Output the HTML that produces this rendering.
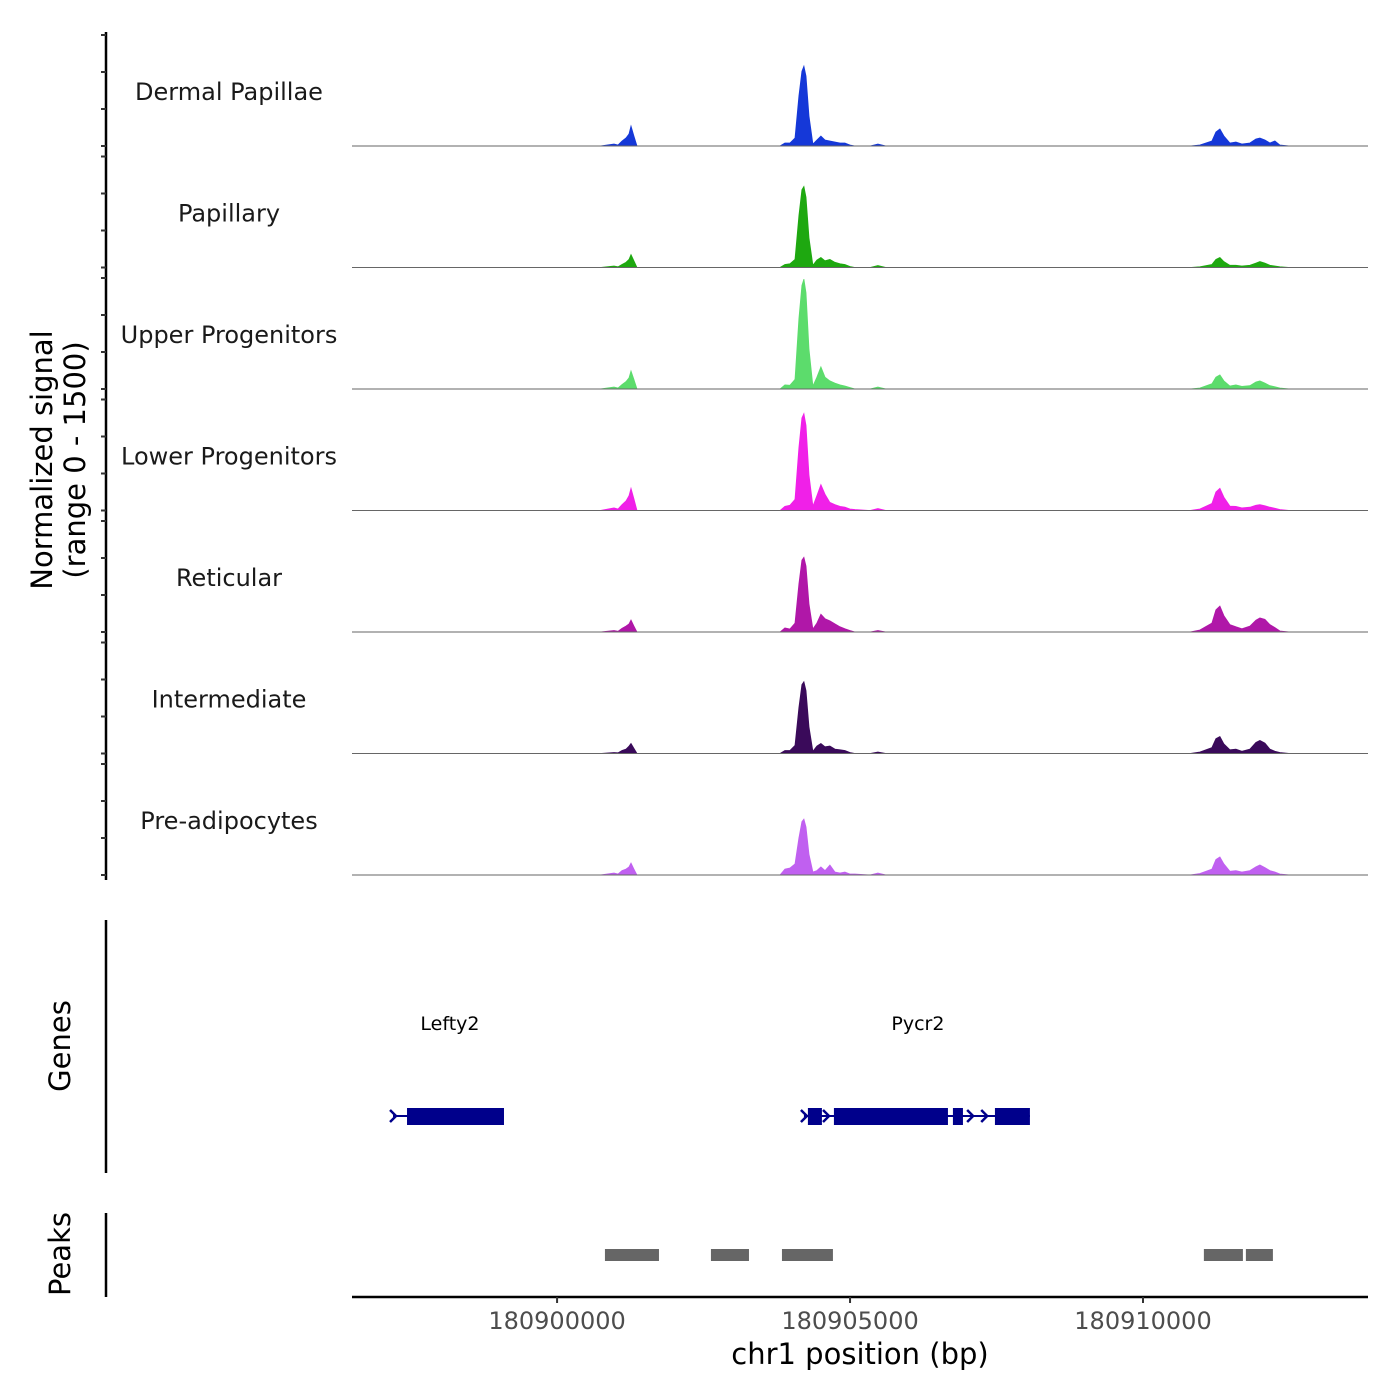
<!DOCTYPE html>
<html><head><meta charset="utf-8"><style>body{margin:0;background:#fff}svg{display:block;font-family:"DejaVu Sans","Liberation Sans",sans-serif}</style></head>
<body>
<svg id="c" width="1400" height="1400" viewBox="0 0 1400 1400"></svg>
<script>
const trackNames=["Dermal Papillae","Papillary","Upper Progenitors","Lower Progenitors","Reticular","Intermediate","Pre-adipocytes"];
const trackColors=["#1538d8","#1ea810","#5cdc6c","#f020e8","#b017a8","#3a0a5a","#c060f0"];
const positions=[180896500,180900732,180900971,180901039,180901108,180901176,180901227,180901261,180901312,180901364,180901449,180901688,180903121,180903804,180903889,180903974,180904060,180904128,180904179,180904213,180904248,180904299,180904367,180904435,180904503,180904572,180904657,180904742,180904828,180904913,180904998,180905084,180905340,180905476,180905613,180910800,180910971,180911176,180911244,180911312,180911381,180911483,180911585,180911688,180911824,180911927,180911995,180912080,180912166,180912251,180912336,180912507,180913838];
const sigDermal=[0,0,27,14,68,108,162,270,135,0,0,0,0,0,40,40,108,675,1010,1080,945,405,27,81,135,81,68,54,40,40,14,0,0,27,0,0,14,68,189,230,135,40,54,27,40,95,108,81,40,68,14,0,0];
const sigPapillary=[0,0,20,10,40,70,110,175,90,0,0,0,0,0,40,50,110,700,1050,1095,950,400,30,100,135,90,110,70,50,40,14,0,0,27,0,0,10,40,110,135,80,30,30,20,30,60,80,60,30,20,10,0,0];
const sigUpper=[0,0,27,14,60,100,150,243,130,0,0,0,0,0,55,50,130,950,1400,1485,1300,540,40,160,300,160,110,80,55,40,20,0,0,27,0,0,14,70,160,190,110,40,55,35,45,95,110,80,45,30,14,0,0];
const sigLower=[0,0,35,20,80,130,200,300,160,0,0,0,0,0,55,70,150,850,1250,1310,1150,480,60,200,350,220,110,80,55,45,20,14,0,27,0,0,20,95,250,300,180,60,55,35,45,70,80,65,45,30,14,0,0];
const sigReticular=[0,0,20,10,50,80,110,162,80,0,0,0,0,0,55,40,120,650,970,1010,890,380,40,120,240,180,150,110,70,45,20,0,0,20,0,0,27,120,300,350,220,100,70,45,80,160,190,170,100,60,14,0,0];
const sigIntermediate=[0,0,14,10,40,60,100,135,70,0,0,0,0,0,40,40,110,620,930,970,850,360,30,100,135,90,100,60,50,40,14,0,0,20,0,0,20,80,200,230,130,50,60,30,60,150,175,140,60,30,14,0,0];
const sigPreadip=[0,0,27,14,60,80,110,162,80,0,0,0,0,0,80,95,150,500,720,755,650,280,40,60,110,60,135,40,27,40,14,14,0,27,0,0,20,80,210,245,150,50,60,40,60,110,135,100,60,40,14,0,0];
const signals=[sigDermal,sigPapillary,sigUpper,sigLower,sigReticular,sigIntermediate,sigPreadip];
const xTicks=[180900000,180905000,180910000];
const yTicks=[0,500,1000,1500];
const genes=[{name:"Lefty2",start:180897200,end:180899094,label:180898172,exons:[[180897439,180899094]]},
 {name:"Pycr2",start:180904213,end:180908070,label:180906159,exons:[[180904281,180904520],[180904725,180906671],[180906756,180906927],[180907473,180908070]]}];
const arrowsAt=[180897200,180904213,180904590,180907050,180907290];
const peaks=[[180900817,180901739],[180902626,180903275],[180903838,180904708],[180911039,180911705],[180911756,180912217]];

const X0=352,X1=1368,D0=180896500,D1=180913840;
const xs=v=>X0+(v-D0)/(D1-D0)*(X1-X0);
const base=i=>146+121.5*i;
const ys=(i,v)=>base(i)-v/1500*111;
const svg=document.getElementById('c');
const NS="http://www.w3.org/2000/svg";
function mk(tag,attrs,parent){const e=document.createElementNS(NS,tag);for(const k in attrs)e.setAttribute(k,attrs[k]);(parent||svg).appendChild(e);return e;}

let e=mk('line',{x1:106,y1:32,x2:106,y2:880,stroke:'#000','stroke-width':2.5});


for(let i=0;i<7;i++){for(const t of yTicks){const tk=mk('line',{x1:101,x2:106,y1:ys(i,t),y2:ys(i,t),stroke:'#333','stroke-width':2});

}}
e=mk('text',{x:0,y:0,'font-size':29,'text-anchor':'middle',fill:'#000',transform:'translate(52,460) rotate(-90)'});


e.innerHTML='<tspan x="0" dy="0">Normalized signal</tspan><tspan x="0" dy="33">(range 0 - 1500)</tspan>';

signals.forEach((s,i)=>{
 let d='M'+xs(positions[0])+','+base(i);
 s.forEach((v,j)=>{d+='L'+xs(positions[j]).toFixed(1)+','+ys(i,v).toFixed(1);});
 d+='L'+xs(positions[positions.length-1])+','+base(i)+'Z';
 const p=mk('path',{d:d,fill:trackColors[i],stroke:trackColors[i],'stroke-width':0.8});
 
 
 const bl=mk('line',{x1:X0,x2:X1,y1:base(i),y2:base(i),stroke:'#666','stroke-width':1});
 
 
 const tl=mk('text',{x:229,y:base(i)-46,'font-size':24,'text-anchor':'middle',fill:'#1a1a1a'});
 
 
 tl.textContent=trackNames[i];
});

e=mk('line',{x1:106,y1:920,x2:106,y2:1173,stroke:'#000','stroke-width':2.5});


e=mk('text',{x:0,y:0,'font-size':29,'text-anchor':'middle',transform:'translate(70,1046) rotate(-90)'});


e.textContent='Genes';
const GY=1116;
genes.forEach(g=>{
 const ln=mk('line',{x1:xs(g.start),x2:xs(g.end),y1:GY,y2:GY,stroke:'#00008b','stroke-width':2});
 
 
 g.exons.forEach(ex=>{const r=mk('rect',{x:xs(ex[0]),y:GY-8,width:xs(ex[1])-xs(ex[0]),height:17,fill:'#00008b'});
 
 });
 const t=mk('text',{x:xs(g.label),y:1030,'font-size':19,'text-anchor':'middle',fill:'#000'});
 
 
 t.textContent=g.name;
});
arrowsAt.forEach(p=>{const ch=mk('path',{d:'M'+(xs(p)-3)+','+(GY-6)+'l6,6l-6,6',fill:'none',stroke:'#00008b','stroke-width':2.5});

});

e=mk('line',{x1:106,y1:1213,x2:106,y2:1297,stroke:'#000','stroke-width':2.5});


e=mk('text',{x:0,y:0,'font-size':29,'text-anchor':'middle',transform:'translate(70,1254) rotate(-90)'});


e.textContent='Peaks';
peaks.forEach(p=>{const r=mk('rect',{x:xs(p[0]),y:1249,width:xs(p[1])-xs(p[0]),height:12,fill:'#666'});

});

e=mk('line',{x1:X0,x2:X1,y1:1297,y2:1297,stroke:'#000','stroke-width':2.5});


xTicks.forEach(t=>{const l=mk('line',{x1:xs(t),x2:xs(t),y1:1297,y2:1303,stroke:'#333','stroke-width':2});


const tx=mk('text',{x:xs(t),y:1329,'font-size':24,'text-anchor':'middle',fill:'#4d4d4d'});


tx.textContent=t;});
e=mk('text',{x:860,y:1364,'font-size':29,'text-anchor':'middle',fill:'#000'});


e.textContent='chr1 position (bp)';
</script>
</body></html>
